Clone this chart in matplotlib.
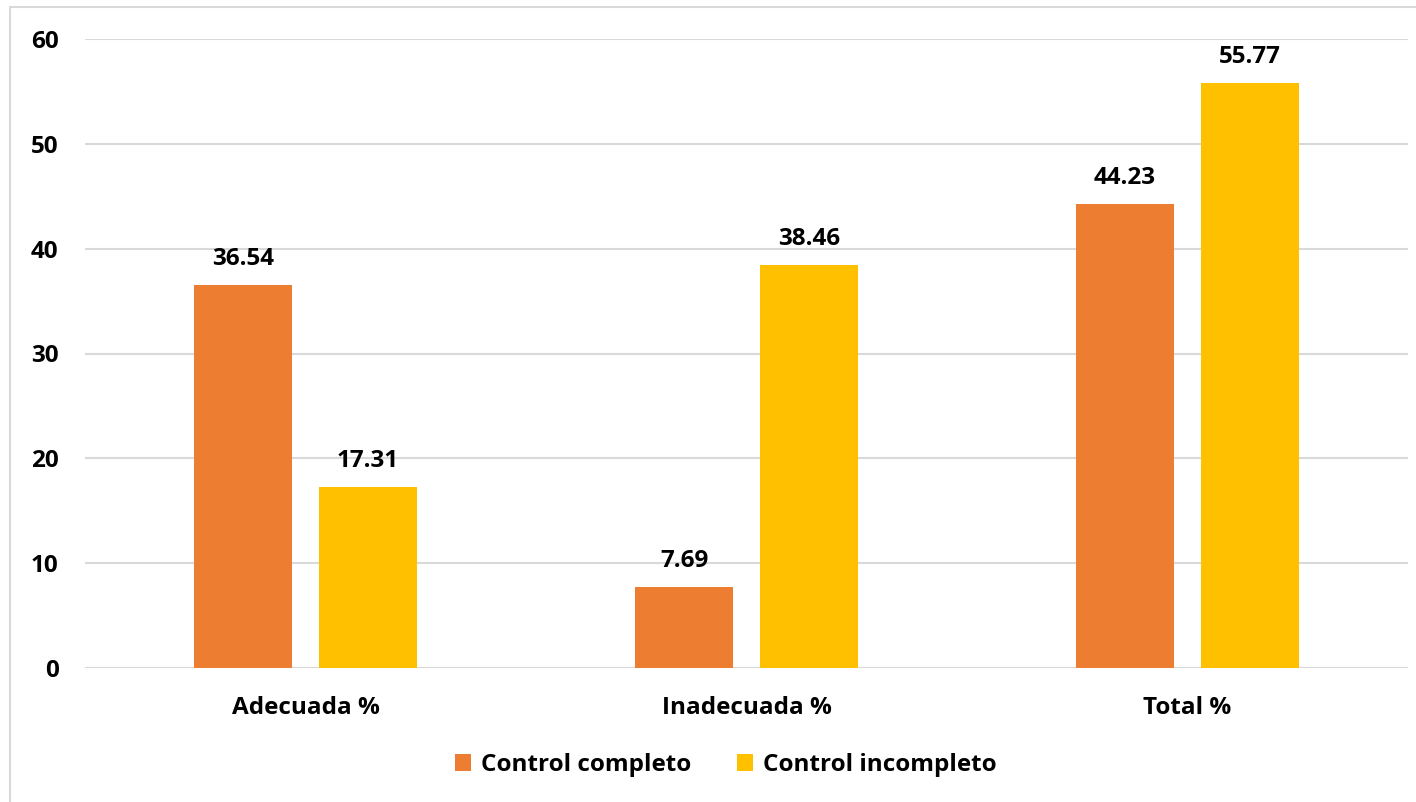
import numpy as np
import matplotlib.pyplot as plt
import matplotlib as mpl
from matplotlib.patches import Rectangle

mpl.rcParams['font.family'] = ['Open Sans', 'DejaVu Sans']
mpl.rcParams['font.weight'] = 'bold'

# дані
categorias = ['Adecuada %', 'Inadecuada %', 'Total %']
completo = [36.54, 7.69, 44.23]
incompleto = [17.31, 38.46, 55.77]
series_names = ['Control completo', 'Control incompleto']

fs = 17.5

fig = plt.figure(figsize=(14.16, 8.02), dpi=100)
ax = fig.add_axes([85 / 1416, 1 - 668 / 802, (1408 - 85) / 1416, (668 - 39) / 802])

x = np.arange(len(categorias))
w = 0.224
off = 0.1415
b1 = ax.bar(x - off, completo, w, color='#ED7D31', label=series_names[0], zorder=3)
b2 = ax.bar(x + off, incompleto, w, color='#FFC000', label=series_names[1], zorder=3)
ax.bar_label(b1, fmt='%.2f', padding=10, fontsize=fs, fontweight='bold')
ax.bar_label(b2, fmt='%.2f', padding=10, fontsize=fs, fontweight='bold')

ax.set_xlim(-0.5, 2.5)
ax.set_ylim(0, 60)
ax.set_yticks(range(0, 61, 10))
ax.set_xticks(x)
ax.set_xticklabels(categorias)
ax.tick_params(axis='y', length=0, pad=19, labelsize=fs)
ax.tick_params(axis='x', length=0, pad=20, labelsize=fs)
ax.grid(axis='y', color='#D9D9D9', linewidth=1.5, zorder=0)
for s in ax.spines.values():
    s.set_visible(False)
ax.axhline(0, color='#D9D9D9', linewidth=1.5, zorder=2)

fig.legend(loc='center', bbox_to_anchor=(726 / 1416, 1 - 765 / 802), ncol=2,
           frameon=False, fontsize=fs, handlelength=0.65, handleheight=0.65,
           handletextpad=0.4, columnspacing=1.9)

# рамка
fig.patches.append(Rectangle((10 / 1416, -0.1), 1.2, 1.1 - 7 / 802, transform=fig.transFigure,
                             fill=False, edgecolor='#D9D9D9', linewidth=1.5))

fig.savefig('out.png', dpi=100)
